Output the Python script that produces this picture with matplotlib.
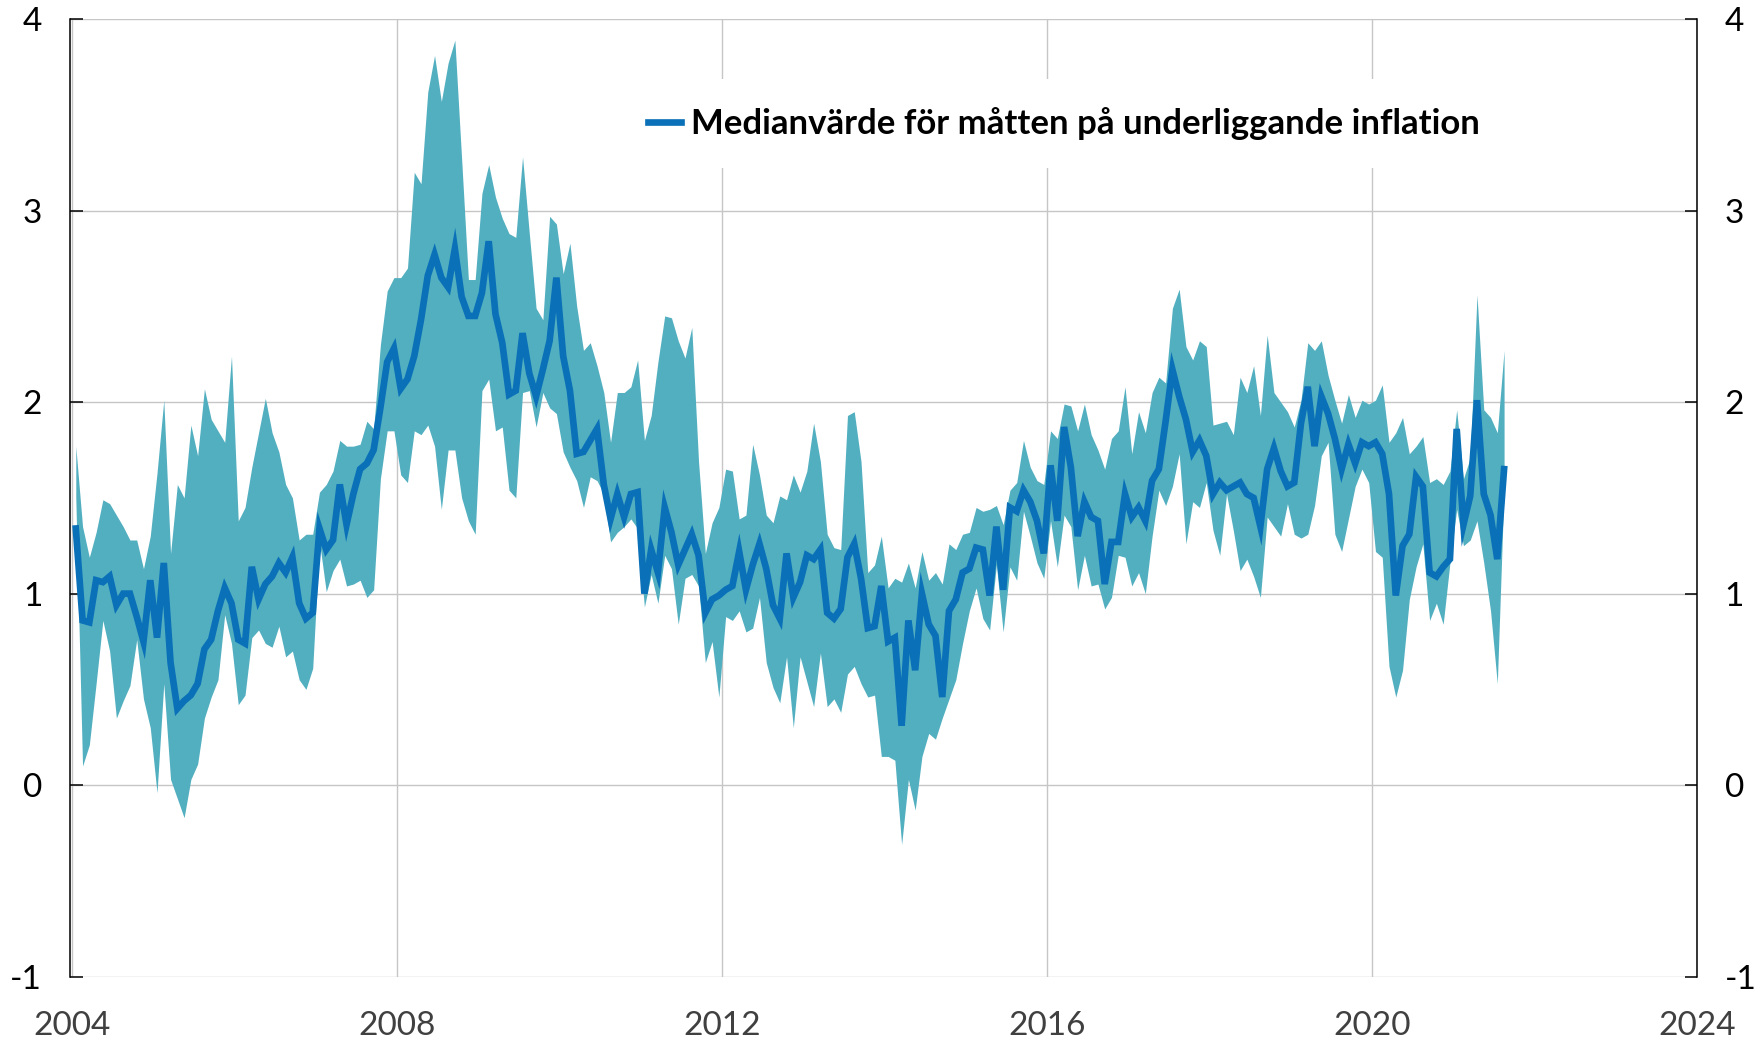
import numpy as np
import matplotlib
matplotlib.use("Agg")
import matplotlib.pyplot as plt

plt.rcParams['font.family'] = ['Lato', 'DejaVu Sans']

start_year = 2004
median = [1.34, 0.86, 0.85, 1.07, 1.06, 1.09, 0.94, 1.00, 1.00, 0.88, 0.75, 1.07,
          0.77, 1.16, 0.64, 0.40, 0.44, 0.47, 0.53, 0.71, 0.76, 0.91, 1.03, 0.95,
          0.76, 0.74, 1.14, 0.97, 1.05, 1.09, 1.16, 1.11, 1.19, 0.95, 0.87, 0.90,
          1.34, 1.23, 1.28, 1.57, 1.36, 1.52, 1.65, 1.68, 1.75, 1.97, 2.21, 2.28,
          2.07, 2.12, 2.24, 2.43, 2.66, 2.77, 2.65, 2.60, 2.80, 2.55, 2.45, 2.45,
          2.57, 2.84, 2.46, 2.31, 2.04, 2.06, 2.36, 2.15, 2.03, 2.17, 2.32, 2.65,
          2.24, 2.06, 1.73, 1.74, 1.80, 1.86, 1.57, 1.39, 1.52, 1.40, 1.52, 1.53,
          1.00, 1.23, 1.11, 1.45, 1.32, 1.15, 1.23, 1.31, 1.20, 0.90, 0.97, 0.99,
          1.02, 1.04, 1.22, 1.02, 1.15, 1.26, 1.13, 0.94, 0.87, 1.21, 0.98, 1.06,
          1.20, 1.18, 1.23, 0.90, 0.87, 0.92, 1.19, 1.26, 1.08, 0.82, 0.83, 1.04,
          0.75, 0.77, 0.31, 0.86, 0.60, 1.00, 0.84, 0.78, 0.46, 0.91, 0.97, 1.11,
          1.13, 1.24, 1.23, 0.99, 1.35, 1.02, 1.45, 1.43, 1.54, 1.48, 1.38, 1.21,
          1.67, 1.38, 1.87, 1.66, 1.30, 1.48, 1.40, 1.38, 1.05, 1.27, 1.27, 1.52,
          1.40, 1.45, 1.38, 1.59, 1.65, 1.90, 2.17, 2.03, 1.91, 1.74, 1.80, 1.72,
          1.52, 1.58, 1.54, 1.56, 1.58, 1.52, 1.50, 1.35, 1.65, 1.76, 1.64, 1.56,
          1.58, 1.89, 2.08, 1.77, 2.03, 1.94, 1.81, 1.65, 1.78, 1.68, 1.79, 1.77,
          1.79, 1.73, 1.52, 0.99, 1.25, 1.31, 1.61, 1.56, 1.11, 1.09, 1.14, 1.18,
          1.86, 1.36, 1.51, 2.01, 1.52, 1.41, 1.18, 1.65]

upper = [1.77, 1.35, 1.19, 1.32, 1.49, 1.47, 1.41, 1.35, 1.28, 1.28, 1.13, 1.30,
         1.63, 2.01, 1.21, 1.57, 1.50, 1.88, 1.72, 2.07, 1.91, 1.85, 1.79, 2.24,
         1.38, 1.45, 1.66, 1.84, 2.02, 1.84, 1.74, 1.57, 1.50, 1.28, 1.31, 1.31,
         1.53, 1.57, 1.64, 1.80, 1.77, 1.77, 1.78, 1.90, 1.86, 2.30, 2.58, 2.65,
         2.65, 2.70, 3.20, 3.14, 3.62, 3.81, 3.57, 3.77, 3.89, 3.27, 2.64, 2.64,
         3.09, 3.24, 3.07, 2.96, 2.88, 2.86, 3.28, 2.88, 2.49, 2.43, 2.97, 2.93,
         2.67, 2.83, 2.50, 2.27, 2.31, 2.19, 2.05, 1.79, 2.05, 2.05, 2.08, 2.22,
         1.80, 1.93, 2.21, 2.45, 2.44, 2.32, 2.23, 2.39, 1.69, 1.21, 1.37, 1.45,
         1.65, 1.64, 1.39, 1.41, 1.78, 1.62, 1.41, 1.37, 1.51, 1.49, 1.62, 1.53,
         1.64, 1.89, 1.69, 1.31, 1.24, 1.23, 1.93, 1.95, 1.69, 1.11, 1.15, 1.30,
         1.03, 1.08, 1.06, 1.16, 1.03, 1.22, 1.07, 1.11, 1.05, 1.26, 1.23, 1.31,
         1.32, 1.45, 1.43, 1.44, 1.46, 1.36, 1.54, 1.58, 1.80, 1.66, 1.59, 1.57,
         1.85, 1.81, 1.99, 1.98, 1.85, 1.99, 1.83, 1.75, 1.65, 1.81, 1.85, 2.08,
         1.73, 1.95, 1.84, 2.05, 2.13, 2.10, 2.49, 2.59, 2.29, 2.22, 2.32, 2.29,
         1.88, 1.89, 1.90, 1.83, 2.13, 2.05, 2.19, 1.93, 2.35, 2.05, 2.00, 1.95,
         1.87, 2.01, 2.31, 2.27, 2.32, 2.14, 2.01, 1.89, 2.04, 1.92, 2.01, 1.99,
         2.01, 2.09, 1.79, 1.84, 1.92, 1.73, 1.77, 1.82, 1.58, 1.60, 1.57, 1.64,
         1.96, 1.60, 1.71, 2.56, 1.96, 1.92, 1.84, 2.27]

lower = [1.50, 0.10, 0.21, 0.53, 0.86, 0.70, 0.35, 0.44, 0.52, 0.76, 0.45, 0.30,
         -0.04, 0.53, 0.03, -0.07, -0.17, 0.03, 0.11, 0.35, 0.46, 0.55, 0.89, 0.74,
         0.42, 0.47, 0.77, 0.81, 0.74, 0.72, 0.83, 0.67, 0.70, 0.55, 0.50, 0.61,
         1.27, 1.01, 1.12, 1.18, 1.04, 1.05, 1.07, 0.98, 1.02, 1.60, 1.85, 1.85,
         1.62, 1.58, 1.85, 1.83, 1.88, 1.77, 1.44, 1.75, 1.75, 1.50, 1.38, 1.31,
         2.06, 2.12, 1.85, 1.87, 1.54, 1.50, 2.05, 2.06, 1.87, 2.05, 1.97, 1.94,
         1.74, 1.66, 1.59, 1.45, 1.61, 1.59, 1.52, 1.27, 1.32, 1.35, 1.39, 1.34,
         0.93, 1.10, 0.95, 1.20, 1.13, 0.84, 1.08, 1.10, 1.04, 0.64, 0.75, 0.46,
         0.88, 0.86, 0.91, 0.80, 0.82, 0.98, 0.64, 0.51, 0.43, 0.67, 0.30, 0.67,
         0.54, 0.41, 0.69, 0.41, 0.45, 0.38, 0.58, 0.62, 0.53, 0.46, 0.47, 0.15,
         0.15, 0.13, -0.31, 0.03, -0.13, 0.15, 0.27, 0.24, 0.35, 0.45, 0.55, 0.74,
         0.91, 1.03, 0.87, 0.81, 1.15, 0.80, 1.14, 1.07, 1.43, 1.30, 1.16, 1.08,
         1.38, 1.14, 1.41, 1.35, 1.02, 1.20, 1.04, 1.05, 0.92, 0.98, 1.20, 1.19,
         1.04, 1.11, 1.00, 1.30, 1.54, 1.46, 1.56, 1.73, 1.26, 1.48, 1.45, 1.58,
         1.33, 1.20, 1.52, 1.33, 1.12, 1.18, 1.09, 0.98, 1.40, 1.35, 1.30, 1.47,
         1.31, 1.29, 1.31, 1.46, 1.72, 1.79, 1.31, 1.22, 1.39, 1.56, 1.65, 1.58,
         1.22, 1.19, 0.62, 0.46, 0.60, 0.97, 1.14, 1.26, 0.86, 0.95, 0.84, 1.16,
         1.44, 1.25, 1.28, 1.38, 1.16, 0.91, 0.53, 1.55]

x_ticks = [2004, 2008, 2012, 2016, 2020, 2024]
y_ticks = [-1, 0, 1, 2, 3, 4]
legend_label = "Medianvärde för måtten på underliggande inflation"

n = len(median)
t = start_year + (np.arange(n) + 0.5) / 12.0

fig = plt.figure(figsize=(17.58, 10.41), dpi=100)
ax = fig.add_axes([0.0398, 0.0618, 0.9255, 0.9199])

band_color = "#52AFC0"
line_color = "#0A70B8"

ax.fill_between(t, lower, upper, color=band_color, linewidth=0, zorder=2)
line, = ax.plot(t, median, color=line_color, linewidth=4.8, zorder=3,
                solid_joinstyle='miter', label=legend_label)

ax.set_xlim(2003.97, 2024.0)
ax.set_ylim(-1, 4)
ax.set_xticks(x_ticks)
ax.set_yticks(y_ticks)
ax.set_xticklabels([str(v) for v in x_ticks])
ax.set_yticklabels([str(v) for v in y_ticks])

ax.grid(True, color="#C6C6C6", linewidth=1.0, zorder=1)
ax.set_axisbelow(True)

for side in ['top', 'bottom']:
    ax.spines[side].set_visible(False)
for side in ['left', 'right']:
    ax.spines[side].set_color('black')
    ax.spines[side].set_linewidth(1.1)

ax.tick_params(axis='x', length=0, pad=25, labelsize=24, labelcolor='#404040')
ax.tick_params(axis='y', which='both', direction='in', length=9, width=1.1,
               labelsize=24, labelcolor='black', left=True, right=True,
               labelleft=True, labelright=True, pad=20)

leg = ax.legend(handles=[line], loc='center left', bbox_to_anchor=(0.3385, 0.891),
                frameon=True, fancybox=False, framealpha=1.0, facecolor='white',
                edgecolor='none', borderpad=0.8, borderaxespad=0.0,
                handlelength=0.95, handletextpad=0.28,
                prop={'size': 25, 'weight': 'bold'})
leg.set_zorder(5)

fig.savefig("out.png", dpi=100)
